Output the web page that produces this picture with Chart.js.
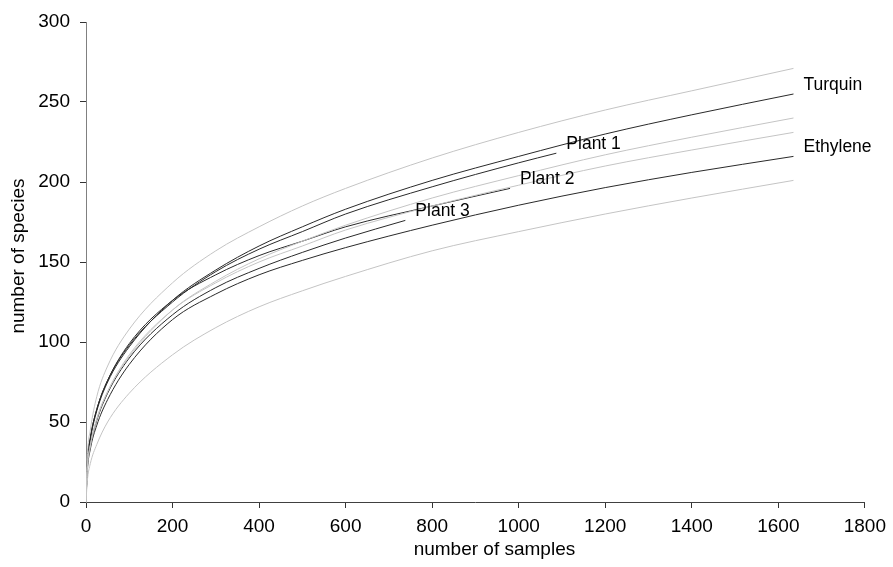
<!DOCTYPE html>
<html>
<head>
<meta charset="utf-8">
<script src="https://cdn.jsdelivr.net/npm/chart.js@4"></script>
<style>
  body { margin: 0; background: #fff; }
  #chart { display: block; }
</style>
</head>
<body>
<canvas id="chart" width="893" height="567"></canvas>
<script>
const samples = [0, 3, 10, 25, 50, 100, 200, 300, 400, 500, 600, 800, 1000, 1200, 1400, 1635];
const plant1Samples = [0, 3, 10, 25, 50, 100, 200, 300, 400, 500, 600, 800, 1000, 1087];
const plant2Samples = [0, 3, 10, 25, 50, 100, 200, 300, 400, 500, 600, 800, 980];
const plant3Samples = [0, 3, 10, 25, 50, 100, 200, 300, 400, 500, 600, 738];

const turquin = [0, 24, 39, 57, 75, 97, 126, 145, 160, 172, 183, 201, 216, 230, 242, 255];
const turquinUpper = [0, 28, 45, 66, 85, 108, 137, 157, 172, 185, 196, 215, 231, 245, 257, 271];
const turquinLower = [0, 21, 35, 52, 69, 91, 120, 138, 152, 163, 173, 190, 204, 217, 228, 240];
const ethylene = [0, 19, 33, 48, 64, 86, 114, 130, 142, 151, 159, 173, 185.5, 196.5, 206, 216];
const ethyleneUpper = [0, 21, 35, 52, 69, 92, 120, 137, 150, 160, 170, 185, 198, 210, 220, 231];
const ethyleneLower = [0, 13, 24, 36, 50, 68, 92, 109, 122, 132, 141, 157, 169, 180, 190, 201];
const plant1 = [0, 24, 40, 58, 76, 98, 125, 144, 158, 169, 180, 197, 212, 218];
const plant2 = [0, 24, 40, 58, 76, 99, 126, 142, 154, 163, 172, 185, 196];
const plant3 = [0, 21, 35, 51, 68, 90, 117, 134, 146, 156, 165, 176];

const xTicks = [0, 200, 400, 600, 800, 1000, 1200, 1400, 1600, 1800];
const yTicks = [0, 50, 100, 150, 200, 250, 300];

const xTitle = "number of samples";
const yTitle = "number of species";

function pts(xs, ys) {
  return ys.map((y, i) => ({ x: xs[i], y: y }));
}

function line(label, xs, ys, color, name) {
  return {
    label: label,
    data: pts(xs, ys),
    showLine: true,
    borderColor: color,
    borderWidth: 1,
    pointRadius: 0,
    cubicInterpolationMode: "monotone",
    fill: false,
    curveName: name,
  };
}

const dark = "#2a2a2a";
const grey = "#c4c4c4";
const font = "'Liberation Sans', Arial, sans-serif";

// curve names next to the last point of each black line
const endLabels = {
  id: "endLabels",
  afterDatasetsDraw(chart) {
    const c = chart.ctx;
    c.save();
    c.font = "17.5px " + font;
    c.fillStyle = "#000";
    c.textBaseline = "middle";
    c.textAlign = "left";
    chart.data.datasets.forEach((ds, i) => {
      if (!ds.curveName) return;
      const meta = chart.getDatasetMeta(i);
      const last = meta.data[meta.data.length - 1];
      c.fillText(ds.curveName, last.x + 10, last.y - 9);
    });
    c.restore();
  },
};

const axisTitles = {
  id: "axisTitles",
  afterDraw(chart) {
    const c = chart.ctx;
    const a = chart.chartArea;
    c.save();
    c.font = "19px " + font;
    c.fillStyle = "#000";
    c.textAlign = "center";
    c.textBaseline = "middle";
    c.fillText(xTitle, (a.left + a.right) / 2 + 19, 550);
    c.translate(19, (a.top + a.bottom) / 2 - 6);
    c.rotate(-Math.PI / 2);
    c.fillText(yTitle, 0, 0);
    c.restore();
  },
};

const ctx = document.getElementById("chart").getContext("2d");
new Chart(ctx, {
  type: "scatter",
  data: {
    datasets: [
      line("Turquin upper", samples, turquinUpper, grey),
      line("Turquin lower", samples, turquinLower, grey),
      line("Ethylene upper", samples, ethyleneUpper, grey),
      line("Ethylene lower", samples, ethyleneLower, grey),
      line("Turquin", samples, turquin, dark, "Turquin"),
      line("Ethylene", samples, ethylene, dark, "Ethylene"),
      line("Plant 1", plant1Samples, plant1, dark, "Plant 1"),
      line("Plant 2", plant2Samples, plant2, dark, "Plant 2"),
      line("Plant 3", plant3Samples, plant3, dark, "Plant 3"),
    ],
  },
  plugins: [endLabels, axisTitles],
  options: {
    responsive: false,
    animation: false,
    devicePixelRatio: 1,
    layout: { padding: { top: 22, right: 25, left: 0, bottom: 0 } },
    plugins: {
      legend: { display: false },
      tooltip: { enabled: false },
    },
    scales: {
      x: {
        type: "linear",
        min: 0,
        max: 1800,
        afterFit(scale) { scale.height = 65; },
        afterBuildTicks(scale) { scale.ticks = xTicks.map(v => ({ value: v })); },
        border: { color: "#404040", width: 1 },
        grid: { drawOnChartArea: false, drawTicks: true, tickLength: 6, color: "#333" },
        ticks: {
          color: "#000",
          padding: 7,
          font: { family: font, size: 19 },
          callback: (v) => String(v),
        },
      },
      y: {
        type: "linear",
        min: 0,
        max: 300,
        afterFit(scale) { scale.width = 86; },
        afterBuildTicks(scale) { scale.ticks = yTicks.map(v => ({ value: v })); },
        border: { color: "#808080", width: 1 },
        grid: { drawOnChartArea: false, drawTicks: true, tickLength: 6, color: "#333" },
        ticks: {
          color: "#000",
          padding: 10,
          font: { family: font, size: 19 },
          callback: (v) => String(v),
        },
      },
    },
  },
});
</script>
</body>
</html>
